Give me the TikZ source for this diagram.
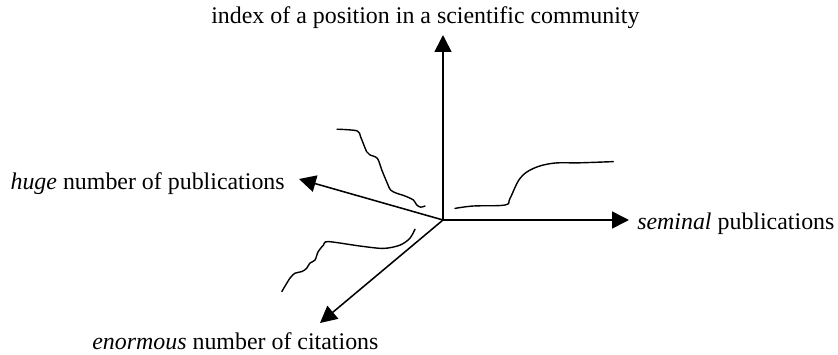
\documentclass[tikz,border=0pt]{standalone}
\usepackage{fontspec}
\setmainfont{Liberation Serif}
\usepackage{tikz}
\usetikzlibrary{arrows.meta}

\tikzset{
  axis/.style={line width=1.1pt,-{Triangle[length=4.2mm,width=4.2mm]}},
  trend/.style={line width=1pt,line cap=round},
  axlabel/.style={font=\fontsize{17}{20}\selectfont,inner sep=0pt}
}

\begin{document}
\begin{tikzpicture}
    \useasboundingbox (-11.075,-3.35) rectangle (9.875,5.5);
    \coordinate (O) at (0,0);
    \coordinate (up) at (0,4.625);
    \coordinate (right) at (4.65,0);
    \coordinate (back) at (-3.6,1.025);
    \coordinate (front) at (-3.075,-2.575);
    % the four axes
    \draw[axis] (O) -- (up);
    \draw[axis] (O) -- (right);
    \draw[axis] (O) -- (back);
    \draw[axis] (O) -- (front);
    \node[axlabel,anchor=base] (lblup) at (-0.44,4.925)
      {index of a position in a scientific community};
    \node[axlabel,anchor=base east] (lblback) at (-3.95,0.775)
      {\textit{huge} number of publications};
    \node[axlabel,anchor=base west] (lblright) at (4.85,-0.245)
      {\textit{seminal} publications};
    \node[axlabel,anchor=base] (lblfront) at (-5.19,-3.225)
      {\textit{enormous} number of citations};
    % hand drawn curves
    \draw[trend] plot[smooth,tension=0.5] coordinates {(-2.65,2.27) (-2.15,2.23)
      (-2.06,2.08) (-1.91,1.71) (-1.83,1.63) (-1.64,1.54) (-1.53,1.25)
      (-1.41,0.96) (-1.31,0.75) (-1.16,0.67) (-0.95,0.60) (-0.74,0.50)
      (-0.66,0.38) (-0.56,0.32) (-0.45,0.35)};
    \draw[trend] plot[smooth,tension=0.5] coordinates {(-0.70,-0.23) (-0.83,-0.46)
      (-1.08,-0.63) (-1.49,-0.71) (-2.08,-0.65) (-2.87,-0.54) (-2.99,-0.63)
      (-3.12,-0.79) (-3.20,-1.00) (-3.33,-1.08) (-3.41,-1.21) (-3.53,-1.29)
      (-3.70,-1.33) (-3.83,-1.46) (-4.03,-1.79)};
    \draw[trend] plot[smooth,tension=0.6] coordinates {(0.30,0.29) (0.76,0.35)
      (1.55,0.375) (1.675,0.54) (1.925,1.04) (2.26,1.29) (2.76,1.42)
      (3.43,1.43) (4.26,1.46)};
  \end{tikzpicture}
\end{document}
